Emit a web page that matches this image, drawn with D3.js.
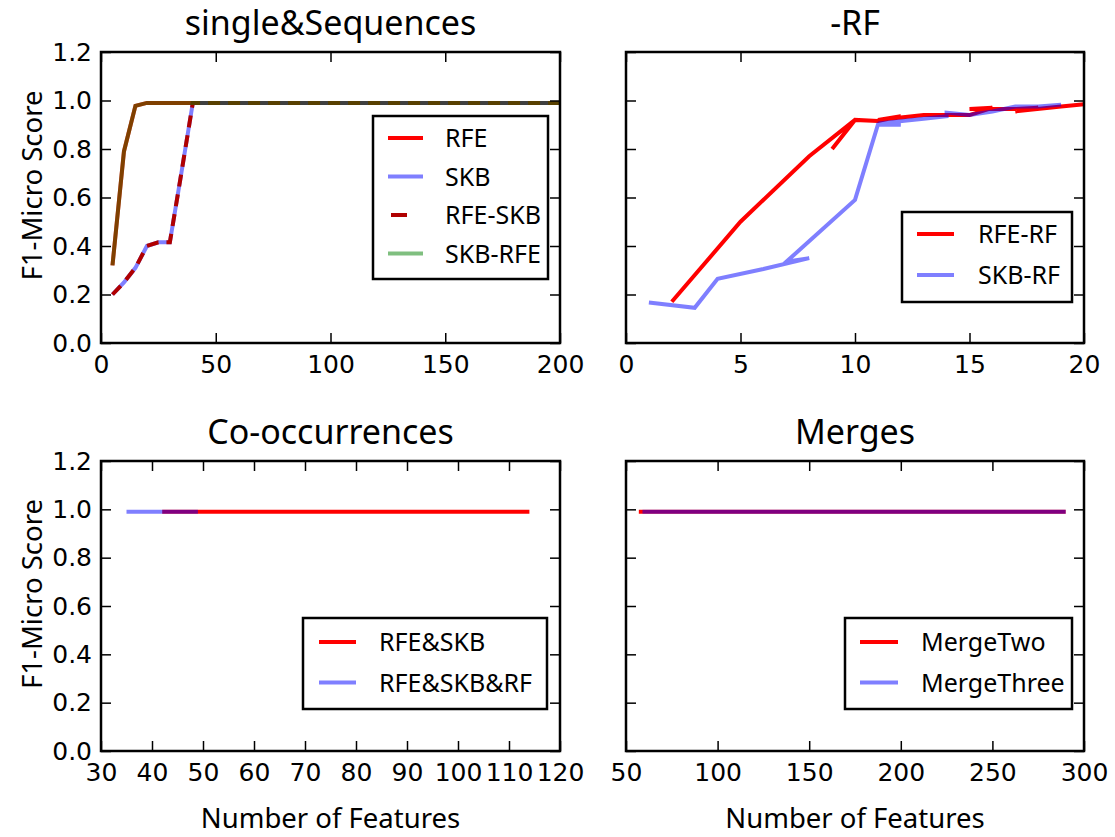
<!DOCTYPE html>
<html>
<head>
<meta charset="utf-8">
<script src="https://cdn.jsdelivr.net/npm/d3@7"></script>
<style>
  body { margin: 0; background: #fff; }
  svg text { fill: #000; }
</style>
</head>
<body>
<div id="chart"></div>
<script>
// single&Sequences
const seqX = [5, 10, 15, 20, 25, 30, 35, 40, 200];
const rfe = [0.32, 0.79, 0.978, 0.99, 0.99, 0.99, 0.99, 0.99, 0.99];
const skb = [0.20, 0.25, 0.31, 0.40, 0.415, 0.415, 0.70, 0.99, 0.99];
const rfeSkb = [0.20, 0.25, 0.31, 0.40, 0.415, 0.415, 0.70, 0.99, 0.99];
const skbRfe = [0.32, 0.79, 0.978, 0.99, 0.99, 0.99, 0.99, 0.99, 0.99];

// -RF
const rfeRfX = [2, 5, 8, 10, 9, 10, 11, 12, 11, 13, 14, 15, 16, 15, 17, 18, 17, 19, 20];
const rfeRfY = [0.17, 0.50, 0.77, 0.92, 0.80, 0.92, 0.915, 0.935, 0.92, 0.94, 0.94, 0.94, 0.97, 0.965, 0.965, 0.97, 0.955, 0.975, 0.985];
const skbRfX = [1, 3, 4, 6, 8, 7, 10, 11, 12, 11, 13, 14, 14, 15, 16, 17, 18, 19];
const skbRfY = [0.167, 0.145, 0.265, 0.305, 0.35, 0.335, 0.59, 0.90, 0.90, 0.905, 0.925, 0.935, 0.95, 0.94, 0.955, 0.975, 0.975, 0.983];

// Co-occurrences
const rfeAndSkbX = [42, 114];
const rfeAndSkb = [0.99, 0.99];
const rfeSkbRfX = [35, 49];
const rfeSkbRf = [0.99, 0.99];

// Merges
const mergeTwoX = [57, 290];
const mergeTwo = [0.99, 0.99];
const mergeThreeX = [59, 290];
const mergeThree = [0.99, 0.99];

const yTicks = [0, 0.2, 0.4, 0.6, 0.8, 1.0, 1.2];

const svg = d3.select("#chart").append("svg")
    .attr("width", 1115)
    .attr("height", 837);

const titleFont = "'Noto Sans', sans-serif";
const tickFont = "'DejaVu Sans', sans-serif";

function drawPanel(p) {
    const x = d3.scaleLinear().domain(p.xDomain).range([p.left, p.right]);
    const y = d3.scaleLinear().domain([0, 1.2]).range([p.bottom, p.top]);

    // series
    p.series.forEach(s => {
        const pts = s.xs.map((v, i) => [v, s.ys[i]]);
        const line = d3.line().x(d => x(d[0])).y(d => y(d[1]));
        svg.append("path")
            .datum(pts)
            .attr("fill", "none")
            .attr("stroke", s.color)
            .attr("stroke-opacity", s.alpha || 1)
            .attr("stroke-width", 4)
            .attr("stroke-linejoin", "miter")
            .attr("stroke-dasharray", s.dash || null)
            .attr("d", line);
    });

    // axes with inward ticks
    svg.append("g")
        .attr("transform", `translate(0,${p.bottom})`)
        .call(d3.axisBottom(x).tickValues(p.xTicks).tickSize(-10).tickSizeOuter(0).tickPadding(12).tickFormat(d3.format("d")));
    svg.append("g")
        .attr("transform", `translate(0,${p.top})`)
        .call(d3.axisTop(x).tickValues(p.xTicks).tickSize(-10).tickSizeOuter(0).tickFormat(""));
    svg.append("g")
        .attr("transform", `translate(${p.left},0)`)
        .call(d3.axisLeft(y).tickValues(yTicks).tickSize(-10).tickSizeOuter(0).tickPadding(9)
            .tickFormat(p.yLabels ? d3.format(".1f") : ""));
    svg.append("g")
        .attr("transform", `translate(${p.right},0)`)
        .call(d3.axisRight(y).tickValues(yTicks).tickSize(-10).tickSizeOuter(0).tickFormat(""));

    svg.selectAll(".domain").remove();
    svg.selectAll(".tick line").attr("stroke", "#000").attr("stroke-width", 1.5);
    svg.selectAll(".tick text")
        .attr("font-family", tickFont)
        .attr("font-size", 25)
        .attr("fill", "#000");

    // frame
    svg.append("rect")
        .attr("x", p.left).attr("y", p.top)
        .attr("width", p.right - p.left).attr("height", p.bottom - p.top)
        .attr("fill", "none").attr("stroke", "#000").attr("stroke-width", 2.5);

    // title
    svg.append("text")
        .attr("x", (p.left + p.right) / 2)
        .attr("y", p.top - 17)
        .attr("text-anchor", "middle")
        .attr("font-family", titleFont)
        .attr("font-size", 34)
        .text(p.title);

    if (p.yLabels) {
        svg.append("text")
            .attr("transform", `translate(42,${(p.top + p.bottom) / 2 - 12}) rotate(-90)`)
            .attr("text-anchor", "middle")
            .attr("font-family", titleFont)
            .attr("font-size", 27.5)
            .text("F1-Micro Score");
    }
    if (p.xLabel) {
        svg.append("text")
            .attr("x", (p.left + p.right) / 2)
            .attr("y", 828)
            .attr("text-anchor", "middle")
            .attr("font-family", titleFont)
            .attr("font-size", 27.5)
            .text("Number of Features");
    }

    // legend
    const lg = p.legend;
    const g = svg.append("g");
    g.append("rect")
        .attr("x", lg.x).attr("y", lg.y).attr("width", lg.w).attr("height", lg.h)
        .attr("fill", "#fff").attr("stroke", "#000").attr("stroke-width", 2.5);
    p.series.forEach((s, i) => {
        const cy = lg.y + lg.first + i * lg.step;
        const x1 = s.dash ? lg.x1 + 3 : lg.x1;
        const x2 = s.dash ? lg.x1 + 19 : lg.x2;
        g.append("line")
            .attr("x1", x1).attr("x2", x2)
            .attr("y1", cy).attr("y2", cy)
            .attr("stroke", s.color)
            .attr("stroke-opacity", s.alpha || 1)
            .attr("stroke-width", 4);
        g.append("text")
            .attr("x", lg.tx).attr("y", cy)
            .attr("dy", "0.36em")
            .attr("font-family", titleFont)
            .attr("font-size", 25)
            .text(s.name);
    });
}

const pairs = (xs, ys) => ({ xs, ys });

drawPanel({
    left: 101, right: 560, top: 52, bottom: 343,
    xDomain: [0, 200], xTicks: [0, 50, 100, 150, 200],
    title: "single&Sequences", yLabels: true, xLabel: false,
    series: [
        { name: "RFE", ...pairs(seqX, rfe), color: "#ff0000" },
        { name: "SKB", ...pairs(seqX, skb), color: "#0000ff", alpha: 0.5 },
        { name: "RFE-SKB", ...pairs(seqX, rfeSkb), color: "#b00000", dash: "12,8" },
        { name: "SKB-RFE", ...pairs(seqX, skbRfe), color: "#008000", alpha: 0.5 }
    ],
    legend: { x: 373, y: 116, w: 175, h: 163, first: 22, step: 38.5, x1: 388, x2: 423, tx: 445 }
});

drawPanel({
    left: 626, right: 1084, top: 52, bottom: 343,
    xDomain: [0, 20], xTicks: [0, 5, 10, 15, 20],
    title: "-RF", yLabels: false, xLabel: false,
    series: [
        { name: "RFE-RF", ...pairs(rfeRfX, rfeRfY), color: "#ff0000" },
        { name: "SKB-RF", ...pairs(skbRfX, skbRfY), color: "#0000ff", alpha: 0.5 }
    ],
    legend: { x: 902, y: 212, w: 170, h: 90, first: 22, step: 41, x1: 917, x2: 954, tx: 978 }
});

drawPanel({
    left: 101, right: 560, top: 461, bottom: 751,
    xDomain: [30, 120], xTicks: [30, 40, 50, 60, 70, 80, 90, 100, 110, 120],
    title: "Co-occurrences", yLabels: true, xLabel: true,
    series: [
        { name: "RFE&SKB", ...pairs(rfeAndSkbX, rfeAndSkb), color: "#ff0000" },
        { name: "RFE&SKB&RF", ...pairs(rfeSkbRfX, rfeSkbRf), color: "#0000ff", alpha: 0.5 }
    ],
    legend: { x: 303, y: 618, w: 244, h: 91, first: 24, step: 40.5, x1: 319, x2: 356, tx: 379 }
});

drawPanel({
    left: 626, right: 1084, top: 461, bottom: 751,
    xDomain: [50, 300], xTicks: [50, 100, 150, 200, 250, 300],
    title: "Merges", yLabels: false, xLabel: true,
    series: [
        { name: "MergeTwo", ...pairs(mergeTwoX, mergeTwo), color: "#ff0000" },
        { name: "MergeThree", ...pairs(mergeThreeX, mergeThree), color: "#0000ff", alpha: 0.5 }
    ],
    legend: { x: 845, y: 618, w: 227, h: 91, first: 24, step: 40.5, x1: 860, x2: 898, tx: 921 }
});
</script>
</body>
</html>
